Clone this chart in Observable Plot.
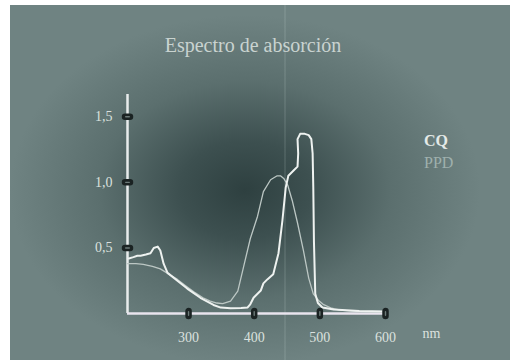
<!DOCTYPE html>
<html>
<head>
<meta charset="utf-8">
<script src="https://cdn.jsdelivr.net/npm/d3@7"></script>
<script src="https://cdn.jsdelivr.net/npm/@observablehq/plot@0.6"></script>
<style>
  html, body { margin: 0; padding: 0; background: #ffffff; }
  #wrap { position: relative; width: 510px; height: 360px; overflow: hidden; }
  #panel {
    position: absolute; left: 10px; top: 5px; width: 500px; height: 355px;
    background:
      linear-gradient(to right, transparent 274px, rgba(220,235,230,0.10) 274px, rgba(220,235,230,0.10) 276px, transparent 276px),
      radial-gradient(ellipse 235px 175px at 235px 185px,
        #2e4040 0%, #3d5050 28%, #5b6f6e 62%, #6f8382 100%);
    background-color: #6f8382;
    font-family: "Liberation Serif", "DejaVu Serif", serif;
  }
  #title {
    position: absolute; left: 0; width: 486px; top: 29px; text-align: center;
    font-size: 20px; color: #c9d3d0;
  }
  #chart { position: absolute; left: 0; top: 60px; }
  .key { position: absolute; left: 414px; font-size: 16px; line-height: 16px; }
  #key-cq { top: 128px; color: #e4eae8; font-weight: bold; }
  #key-ppd { top: 150px; color: #9fb0ad; }
</style>
</head>
<body>
<div id="wrap">
  <div id="panel">
    <div id="title">Espectro de absorción</div>
    <div id="chart"></div>
    <div class="key" id="key-cq">CQ</div>
    <div class="key" id="key-ppd">PPD</div>
  </div>
</div>
<script>
// Absorption spectra: wavelength (nm) against absorbance.
const cqWavelength = [209, 216, 222, 227, 235, 242, 247, 253, 257, 262, 268, 283, 298, 318, 338, 349, 364, 380, 390, 394,
  399, 410, 414, 420, 429, 437, 443, 448, 452, 460, 466, 467, 466, 470, 477, 483, 487, 489, 490, 491, 493, 497, 504, 521, 560, 600];
const cqAbsorbance = [0.42, 0.43, 0.44, 0.44, 0.45, 0.46, 0.50, 0.51, 0.48, 0.38, 0.31, 0.25, 0.19, 0.12, 0.065, 0.045, 0.04, 0.042, 0.046, 0.07,
  0.12, 0.175, 0.23, 0.26, 0.30, 0.46, 0.71, 0.96, 1.05, 1.09, 1.12, 1.22, 1.33, 1.37, 1.37, 1.36, 1.33, 1.22, 0.96, 0.55, 0.15, 0.08, 0.046, 0.03, 0.02, 0.015];

const ppdWavelength = [207, 220, 231, 245, 257, 270, 283, 296, 308, 322, 333, 343, 352, 364, 375, 384, 394, 405, 414,
  425, 435, 440, 445, 451, 458, 466, 475, 483, 490, 498, 505, 518, 531, 560, 600];
const ppdAbsorbance = [0.38, 0.38, 0.375, 0.36, 0.34, 0.30, 0.26, 0.21, 0.165, 0.12, 0.095, 0.08, 0.075, 0.095, 0.17, 0.36, 0.57, 0.74, 0.93,
  1.02, 1.05, 1.05, 1.03, 0.98, 0.86, 0.69, 0.48, 0.27, 0.15, 0.10, 0.07, 0.04, 0.025, 0.015, 0.01];

const xTicks = [300, 400, 500, 600];
const yTicks = [0.5, 1.0, 1.5];
const xDomain = [207, 600];
const yDomain = [0, 1.67];

const cq = cqWavelength.map((w, i) => ({w, a: cqAbsorbance[i]}));
const ppd = ppdWavelength.map((w, i) => ({w, a: ppdAbsorbance[i]}));

// Capsule-shaped tick markers drawn as custom dot symbols.
function capsule(wide, tall) {
  return {
    draw(ctx, size) {
      const w = wide / 2, h = tall / 2, r = Math.min(w, h);
      ctx.moveTo(-w + r, -h);
      ctx.lineTo(w - r, -h);
      ctx.arc(w - r, -h + r, r, -Math.PI / 2, 0);
      ctx.lineTo(w, h - r);
      ctx.arc(w - r, h - r, r, 0, Math.PI / 2);
      ctx.lineTo(-w + r, h);
      ctx.arc(-w + r, h - r, r, Math.PI / 2, Math.PI);
      ctx.lineTo(-w, -h + r);
      ctx.arc(-w + r, -h + r, r, Math.PI, Math.PI * 1.5);
      ctx.closePath();
    }
  };
}

const comma = d => d3.format(".1f")(d).replace(".", ",");

const chart = Plot.plot({
  width: 500,
  height: 295,
  marginLeft: 117,
  marginRight: 125,
  marginTop: 29,
  marginBottom: 47,
  style: {background: "transparent", fontFamily: "Liberation Serif, DejaVu Serif, serif", fontSize: "14px", color: "#dbe1df"},
  x: {domain: xDomain, range: [117, 375]},
  y: {domain: yDomain},
  marks: [
    Plot.axisX({ticks: xTicks, tickSize: 0, tickPadding: 19, fontSize: 14, fill: "#dbe1df", label: null}),
    Plot.axisY({ticks: yTicks, tickSize: 0, tickPadding: 15, tickFormat: comma, fontSize: 14, fill: "#dbe1df", label: null}),
    Plot.text(["nm"], {frameAnchor: "bottom-right", dx: 46, dy: 24, fontSize: 14, fill: "#dbe1df", textAnchor: "middle"}),
    // axes
    Plot.ruleX([xDomain[0]], {y1: 0, y2: yDomain[1], stroke: "#e8ecec", strokeWidth: 2.5}),
    Plot.ruleY([0], {x1: xDomain[0], x2: xDomain[1], stroke: "#e9e4ee", strokeWidth: 2.5}),
    // spectra
    Plot.line(ppd, {x: "w", y: "a", stroke: "#bcc7c4", strokeWidth: 1.3, curve: "linear"}),
    Plot.line(cq, {x: "w", y: "a", stroke: "#eef2f0", strokeWidth: 2, curve: "linear"}),
    // tick markers
    Plot.dot(xTicks, {x: d => d, y: 0, symbol: capsule(5, 10), r: 5, fill: "#1b2323", stroke: "#1b2323"}),
    Plot.dot(xTicks, {x: d => d, y: 0, symbol: capsule(1.4, 5), r: 2, fill: "#6c7a78"}),
    Plot.dot(yTicks, {x: xDomain[0], y: d => d, symbol: capsule(10, 5), r: 5, fill: "#1b2323", stroke: "#1b2323"}),
    Plot.dot(yTicks, {x: xDomain[0], y: d => d, symbol: capsule(5, 1.4), r: 2, fill: "#6c7a78"})
  ]
});
document.getElementById("chart").appendChild(chart);
</script>
</body>
</html>
